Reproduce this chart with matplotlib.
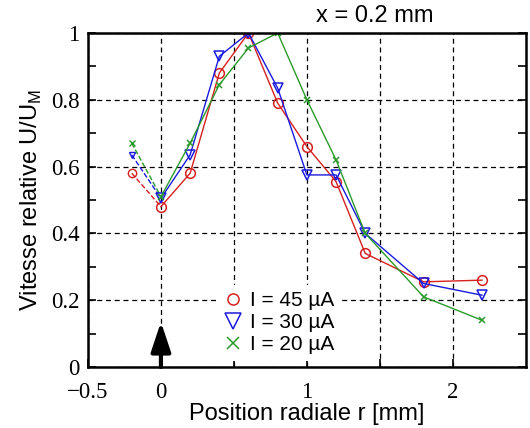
import matplotlib.pyplot as plt
from matplotlib.ticker import FixedLocator

# data
r_45 = [0, 0.2, 0.4, 0.6, 0.8, 1.0, 1.2, 1.4, 1.8, 2.2]
u_45 = [0.48, 0.58, 0.88, 1.0, 0.79, 0.66, 0.555, 0.34, 0.255, 0.26]
r_30 = [0, 0.2, 0.4, 0.6, 0.8, 1.0, 1.2, 1.4, 1.8, 2.2]
u_30 = [0.505, 0.635, 0.93, 1.0, 0.835, 0.575, 0.575, 0.40, 0.25, 0.215]
r_20 = [0, 0.2, 0.4, 0.6, 0.8, 1.0, 1.2, 1.4, 1.8, 2.2]
u_20 = [0.51, 0.67, 0.845, 0.955, 1.0, 0.80, 0.62, 0.40, 0.21, 0.14]

# extrapolated points (dashed)
r_ext = [-0.2, 0]
ext_45 = [0.58, 0.48]
ext_30 = [0.635, 0.505]
ext_20 = [0.67, 0.51]

labels = ['I = 45 µA', 'I = 30 µA', 'I = 20 µA']
colors = ['#d62020', '#1a1adf', '#2a9a2a']

xticks = [-0.5, 0, 0.5, 1, 1.5, 2]
xticklabels = ['\u22120.5', '0', '', '1', '', '2']
yticks = [0, 0.2, 0.4, 0.6, 0.8, 1]
yticklabels = ['0', '0.2', '0.4', '0.6', '0.8', '1']

fig = plt.figure(figsize=(5.3, 4.28), dpi=100)
ax = fig.add_axes([0.166, 0.1425, 0.826, 0.7805])

ax.plot(r_ext, ext_45, '--', color=colors[0], lw=1, marker='o', ms=6, mfc='none', markevery=[0])
ax.plot(r_ext, ext_30, '--', color=colors[1], lw=1, marker='v', ms=5, mfc='none', markevery=[0])
ax.plot(r_ext, ext_20, '--', color=colors[2], lw=1, marker='x', ms=4, markevery=[0])

ax.plot(r_45, u_45, '-', color=colors[0], lw=1, marker='o', ms=7, mfc='none', mew=1.1, label=labels[0])
ax.plot(r_30, u_30, '-', color=colors[1], lw=1, marker='v', ms=7.5, mfc='none', mew=1.1, label=labels[1])
ax.plot(r_20, u_20, '-', color=colors[2], lw=1, marker='x', ms=4.5, mew=1.1, label=labels[2])

ax.set_xlim(-0.5, 2.5)
ax.set_ylim(0, 1.0)
ax.set_xticks(xticks)
ax.set_xticklabels(xticklabels, family='Liberation Serif', fontsize=16.5)
ax.set_yticks(yticks)
ax.set_yticklabels(yticklabels, family='Liberation Serif', fontsize=16.5)
ax.yaxis.set_minor_locator(FixedLocator([0.1, 0.3, 0.5, 0.7, 0.9]))
ax.tick_params(which='both', direction='in', length=6, width=1.2, right=True, pad=6)
ax.tick_params(axis='x', pad=11)

ax.grid(True, which='major', color='black', linestyle=(0, (4, 3)), lw=0.9)
for s in ax.spines.values():
    s.set_linewidth(1.8)

# arrow at r = 0
ax.annotate('', xy=(0, 0.135), xytext=(0, 0),
            arrowprops=dict(arrowstyle='-|>,head_length=1.8,head_width=0.6',
                            color='black', lw=3, shrinkA=0, shrinkB=0), zorder=5)

# legend: markers only, no frame
handles, hl = ax.get_legend_handles_labels()
leg = ax.legend(handles, hl, loc='lower left', bbox_to_anchor=(0.27, -0.012),
                frameon=True, handlelength=1.0, handletextpad=0.3,
                labelspacing=0.15, borderpad=0.3, prop={'family': 'Liberation Sans', 'size': 15})
leg.get_frame().set_edgecolor('none')
leg.get_frame().set_facecolor('white')
leg.get_frame().set_alpha(1)
for h, ms in zip(leg.legend_handles, [8, 11, 8]):
    h.set_linestyle('none')
    h.set_markersize(ms)

ax.set_xlabel('Position radiale r [mm]', family='Liberation Sans', fontsize=17, labelpad=0)
ax.set_ylabel('Vitesse relative U/U$_\\mathregular{M}$', family='Liberation Sans', fontsize=17, labelpad=5)
fig.text(0.708, 0.963, 'x = 0.2 mm', ha='center', va='center', family='Liberation Sans', fontsize=17)

fig.savefig('out.png', dpi=100)
